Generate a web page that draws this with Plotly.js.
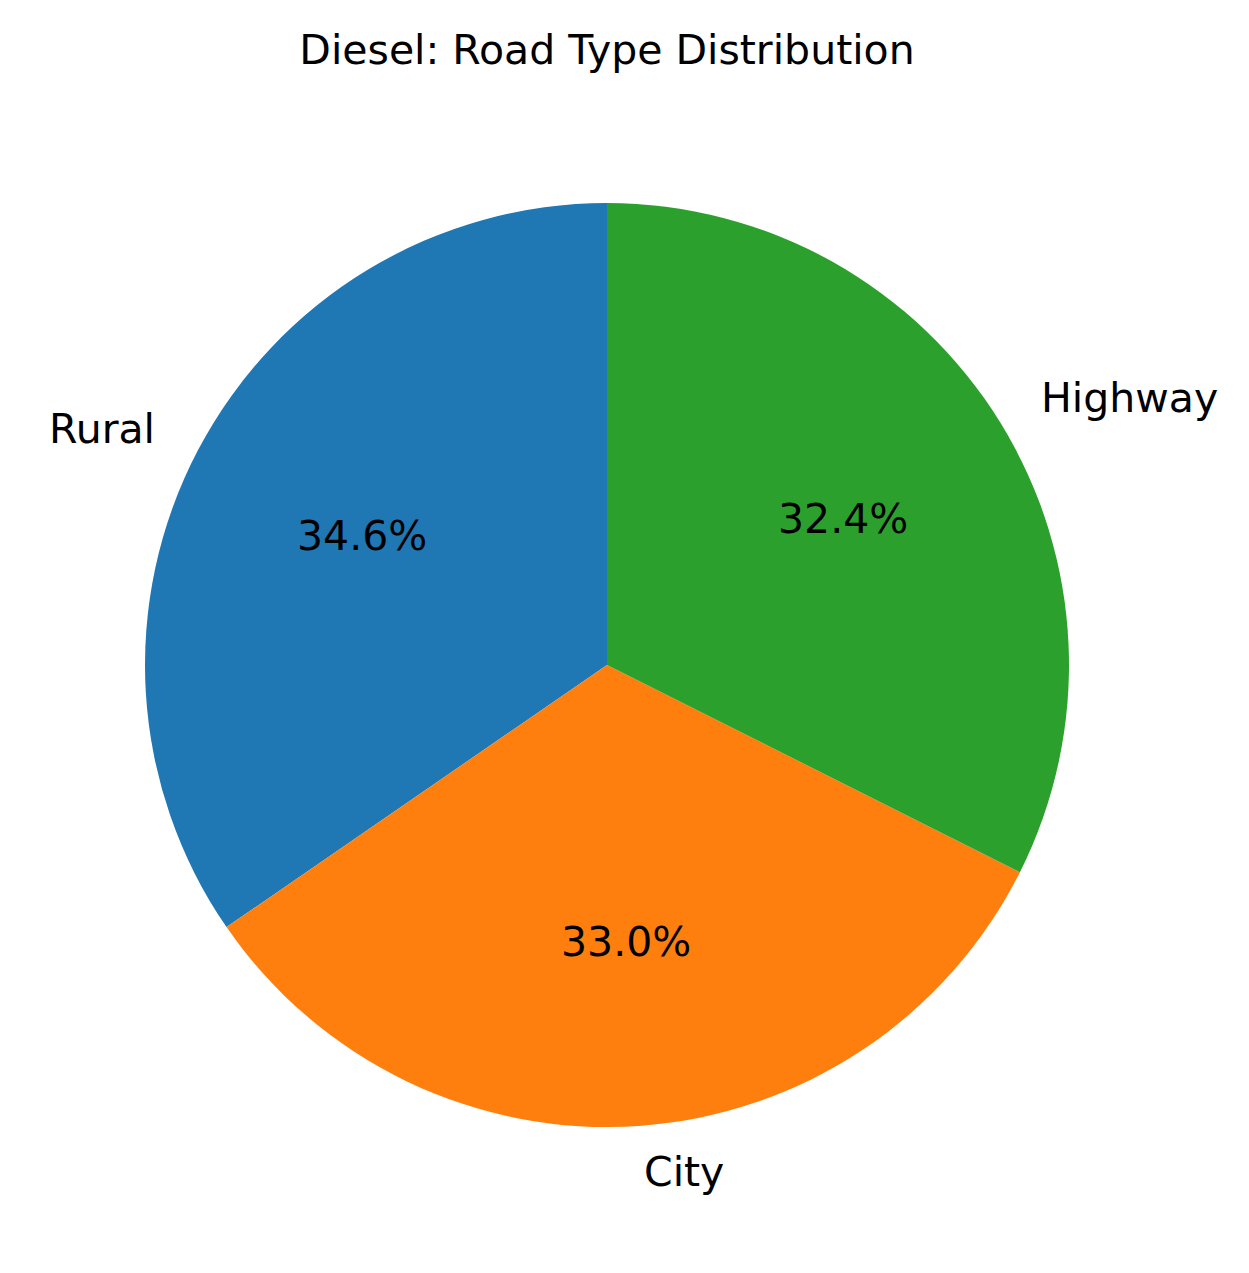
<!DOCTYPE html>
<html>
<head>
<meta charset="utf-8">
<script src="https://cdn.plot.ly/plotly-3.0.1.min.js"></script>
<style>html,body{margin:0;padding:0;background:#fff;}#chart{width:1249px;height:1273px;}</style>
</head>
<body>
<div id="chart"></div>
<script>
const categories = ["Rural", "City", "Highway"];
const shares = [34.6, 33.0, 32.4];
const colors = ["#1f77b4", "#ff7f0e", "#2ca02c"];

const W = 1249, H = 1273;
const cx = 607, cy = 665, R = 462;
const FONT = "DejaVu Sans, sans-serif";
const FS = 41;

const total = shares.reduce((a, b) => a + b, 0);
const annotations = [];
let start = 90;
shares.forEach((v, i) => {
  const sweep = v / total * 360;
  const mid = (start + sweep / 2) * Math.PI / 180;
  start += sweep;
  const c = Math.cos(mid), s = Math.sin(mid);
  const lx = cx + 1.1 * R * c, ly = cy - 1.1 * R * s;
  annotations.push({
    text: categories[i], xref: "paper", yref: "paper",
    x: lx / W, y: 1 - ly / H,
    xanchor: c >= 0 ? "left" : "right", yanchor: "middle",
    showarrow: false, font: {family: FONT, size: FS, color: "#000"}
  });
  const px = cx + 0.6 * R * c, py = cy - 0.6 * R * s;
  annotations.push({
    text: (v / total * 100).toFixed(1) + "%", xref: "paper", yref: "paper",
    x: px / W, y: 1 - py / H,
    xanchor: "center", yanchor: "middle",
    showarrow: false, font: {family: FONT, size: FS, color: "#000"}
  });
});

// Plotly's counterclockwise mode begins the first slice one slice-width clockwise of 'rotation'
const rot = -shares[0] / total * 360;

const trace = {
  type: "pie",
  labels: categories,
  values: shares,
  marker: {colors: colors, line: {width: 0}},
  sort: false,
  direction: "counterclockwise",
  rotation: rot,
  textinfo: "none",
  hoverinfo: "label+percent",
  domain: {x: [(cx - R) / W, (cx + R) / W], y: [1 - (cy + R) / H, 1 - (cy - R) / H]},
  showlegend: false
};

const layout = {
  width: W, height: H,
  margin: {l: 0, r: 0, t: 0, b: 0},
  paper_bgcolor: "#fff",
  title: {text: "Diesel: Road Type Distribution", x: 0.486, xanchor: "center", y: 1 - 50 / H, yanchor: "middle",
          font: {family: FONT, size: FS, color: "#000"}},
  annotations: annotations,
  showlegend: false
};

Plotly.newPlot("chart", [trace], layout, {displayModeBar: false, staticPlot: true});
</script>
</body>
</html>
